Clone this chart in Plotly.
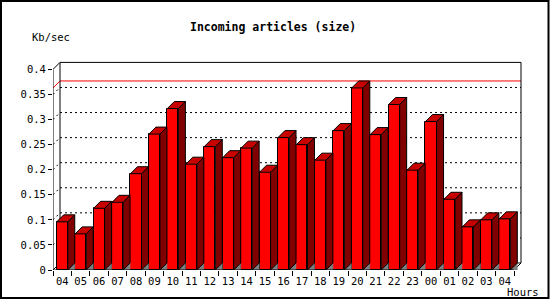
import plotly.graph_objects as go

hours = ["04", "05", "06", "07", "08", "09", "10", "11", "12", "13", "14", "15", "16",
         "17", "18", "19", "20", "21", "22", "23", "00", "01", "02", "03", "04"]
kb_sec = [0.096, 0.072, 0.123, 0.135, 0.192, 0.271, 0.322, 0.211, 0.246, 0.224, 0.243,
          0.195, 0.264, 0.250, 0.219, 0.278, 0.363, 0.270, 0.330, 0.199, 0.296, 0.141,
          0.086, 0.100, 0.102]
y_ticks = [0, 0.05, 0.1, 0.15, 0.2, 0.25, 0.3, 0.35, 0.4]
y_ticktext = ["0", "0.05", "0.1", "0.15", "0.2", "0.25", "0.3", "0.35", "0.4"]

W, H = 550, 300
L, R, T, B = 53, 28, 60, 30
PW, PH = W - L - R, H - T - B
n = len(hours)
DEPTH = 7                       # pixel depth of the 3D effect
cw = (PW - DEPTH - 1) / n       # pixels per category
ppu = (PH - DEPTH - 2.4) / 0.4   # pixels per unit value
dx = DEPTH / cw
dy = DEPTH / ppu
xlo = -0.5
xhi = xlo + PW / cw
yhi = PH / ppu
hw = 0.3
xs = list(range(n))

FONT = "DejaVu Sans Mono"

fig = go.Figure()

# front faces
fig.add_trace(go.Bar(x=xs, y=kb_sec, width=2 * hw, marker=dict(color="#ff0000", line=dict(color="black", width=1)),
                     hoverinfo="skip"))

# side faces, top faces, floor shadows
sx, sy, tx, ty, gx, gy = [], [], [], [], [], []
for x, v in zip(xs, kb_sec):
    sx += [x + hw, x + hw + dx, x + hw + dx, x + hw, x + hw, None]
    sy += [0, dy, v + dy, v, 0, None]
    tx += [x - hw, x - hw + dx, x + hw + dx, x + hw, x - hw, None]
    ty += [v, v + dy, v + dy, v, v, None]
    gx += [x + hw, x + hw + dx, x + hw + dx, x + hw, None]
    gy += [0, dy, 0, 0, None]

fig.add_trace(go.Scatter(x=gx, y=gy, mode="lines", fill="toself", fillcolor="#808080",
                         line=dict(color="#808080", width=0.5), hoverinfo="skip"))
fig.add_trace(go.Scatter(x=sx, y=sy, mode="lines", fill="toself", fillcolor="#800000",
                         line=dict(color="black", width=1), hoverinfo="skip"))
fig.add_trace(go.Scatter(x=tx, y=ty, mode="lines", fill="toself", fillcolor="#c80000",
                         line=dict(color="black", width=1), hoverinfo="skip"))

shapes = []
def seg(x0, y0, x1, y1, color="black", dash=None, layer="below", width=1):
    shapes.append(dict(type="line", xref="x", yref="y", x0=x0, y0=y0, x1=x1, y1=y1,
                       line=dict(color=color, width=width, dash=dash), layer=layer))

bx0 = xlo + dx
bx1 = n - 0.5 + dx
# grid lines on back wall + left wall
for v in y_ticks[1:-1]:
    seg(bx0, v + dy, bx1, v + dy, dash="2px,3px")
    seg(xlo, v, bx0, v + dy, dash="2px,3px")
# max line
vmax = max(kb_sec)
seg(bx0, vmax + dy, bx1, vmax + dy, color="#ff0000")
seg(xlo, vmax, bx0, vmax + dy, color="#ff0000")
# back wall frame
seg(bx0, dy, bx0, 0.4 + dy)
seg(bx0, 0.4 + dy, bx1, 0.4 + dy)
seg(bx1, 0.4 + dy, bx1, dy)
seg(bx0, dy, bx1, dy)
# left wall / floor edges
seg(xlo, 0.4, bx0, 0.4 + dy)
seg(xlo, 0, bx0, dy)
seg(n - 0.5, 0, bx1, dy)
# front axes
seg(xlo, 0, xlo, 0.4, layer="above")
seg(xlo, 0, n - 0.5, 0, layer="above")

# outer border in paper coordinates
def px(p):
    return (p - L) / PW
def py(p):
    return (H - B - p) / PH
shapes.append(dict(type="rect", xref="paper", yref="paper", x0=px(1), y0=py(1), x1=px(548.5), y1=py(298),
                   line=dict(color="black", width=2), layer="above"))

fig.update_layout(
    width=W, height=H, margin=dict(l=L, r=R, t=T, b=B),
    paper_bgcolor="white", plot_bgcolor="white", showlegend=False,
    shapes=shapes, bargap=0,
    font=dict(family=FONT, size=10.5, color="black"),
    xaxis=dict(range=[xlo, xhi], tickmode="array", tickvals=xs, ticktext=hours, ticks="",
               showgrid=False, zeroline=False, showline=False, fixedrange=True,
               ticklabelstandoff=3,
               tickfont=dict(family=FONT, size=10.5, color="black"),
               minor=dict(tickmode="linear", tick0=-0.5, dtick=1, ticks="outside", ticklen=5,
                          tickcolor="black", tickwidth=1, showgrid=False)),
    yaxis=dict(range=[0, yhi], tickmode="array", tickvals=y_ticks, ticktext=y_ticktext,
               ticks="outside", ticklen=4, tickcolor="black", showgrid=False, zeroline=False,
               showline=False, fixedrange=True,
               tickfont=dict(family=FONT, size=10.5, color="black")),
    annotations=[
        dict(text="<b>Incoming articles (size)</b>", xref="paper", yref="paper", x=px(273), y=py(27),
             xanchor="center", yanchor="middle", showarrow=False,
             font=dict(family=FONT, size=11.5, color="black")),
        dict(text="Kb/sec", xref="paper", yref="paper", x=px(30), y=py(37),
             xanchor="left", yanchor="middle", showarrow=False,
             font=dict(family=FONT, size=10.5, color="black")),
        dict(text="Hours", xref="paper", yref="paper", x=px(505), y=py(292),
             xanchor="left", yanchor="middle", showarrow=False,
             font=dict(family=FONT, size=10.5, color="black")),
    ],
)

fig.write_html("out.html")
